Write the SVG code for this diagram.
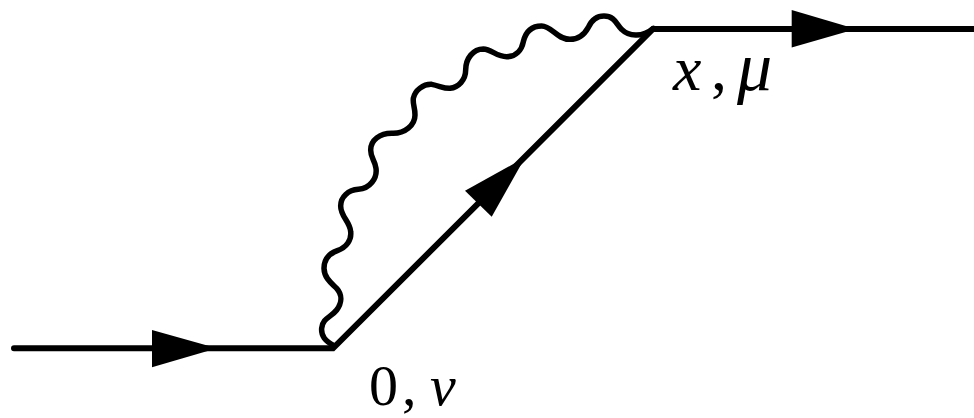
<svg xmlns="http://www.w3.org/2000/svg" width="974" height="418" viewBox="0 0 974 418">
<style>
.line{fill:none;stroke:#000;stroke-width:6;stroke-linecap:round;stroke-linejoin:miter}
.wave{fill:none;stroke:#000;stroke-width:16.500;stroke-linecap:round;stroke-linejoin:round}
.head{fill:#000;stroke:none}
.lbl{font-family:"Liberation Serif","Times New Roman",serif;fill:#000}
.it{font-style:italic}
</style>
<rect width="974" height="418" fill="#fff"/>
<g id="connectors">
<path class="line" d="M14 348.300H333L653 29H976"/>
<path class="wave" transform="translate(300 0) scale(.33333)" d="M103 1038C75 1022 63 1008 65 985C67 955 95 950 110 930C125 910 128 885 110 865C95 850 73 835 72 805C72 775 90 760 112 752C140 742 155 720 152 695C150 665 122 650 122 618C122 590 145 570 175 568C210 565 232 535 228 505C225 480 212 475 212 450C212 420 240 400 275 400C315 402 345 375 345 345C345 320 338 315 340 295C345 270 370 252 395 253C420 258 432 266 450 265C475 262 497 240 497 210C497 175 520 147 550 147C575 148 590 170 620 170C648 170 665 150 670 125C677 95 695 78 725 78C755 78 770 118 810 118C840 118 855 100 865 82C875 60 890 48 912 48C945 48 950 75 965 88C985 108 1025 115 1060 85"/>
<polygon class="head" points="152,330 152,367.300 217,348.300"/>
<polygon class="head" points="465,190.700 491.700,216.700 525,157.500"/>
<polygon class="head" points="791.700,10 791.700,47.500 856,29"/>
</g>
<g id="node-x-mu">
<text class="lbl" y="90" font-size="64"><tspan class="it" x="673">x</tspan><tspan x="711">,</tspan><tspan class="it" x="737" font-size="70">μ</tspan></text>
</g>
<g id="node-0-nu">
<text class="lbl" y="405" font-size="58"><tspan x="369">0</tspan><tspan x="402">,</tspan><tspan class="it" x="430">ν</tspan></text>
</g>
</svg>
